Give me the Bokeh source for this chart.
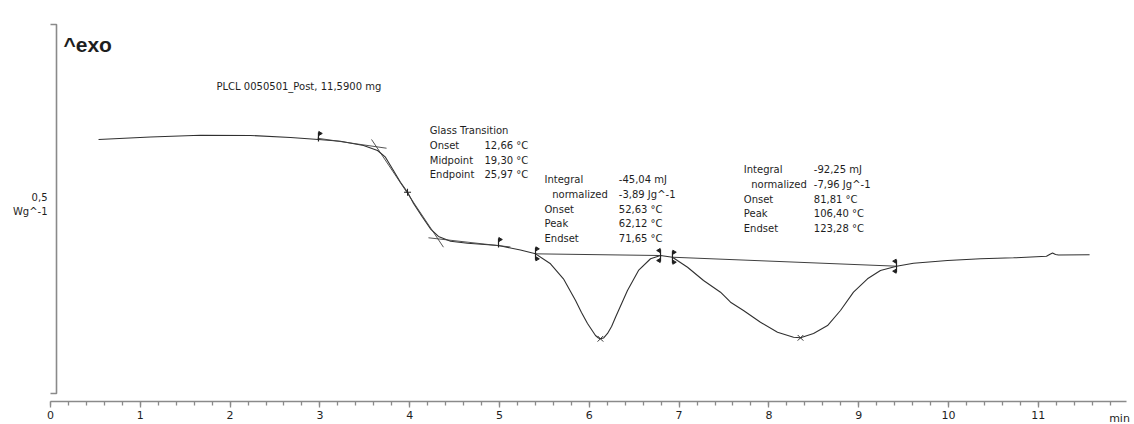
import math
from bokeh.plotting import figure
from bokeh.models import Label, SingleIntervalTicker, Range1d
from bokeh.embed import file_html
from bokeh.resources import INLINE

# ---------------- data (time in min, heat flow in W/g) ----------------
time_min = [0.535, 1.113, 1.671, 2.227, 2.673, 2.984, 3.229, 3.486, 3.642, 3.730,
            3.819, 3.897, 3.976, 4.043, 4.143, 4.231, 4.320, 4.455, 4.644, 4.989,
            5.233, 5.401, 5.568, 5.712, 5.847, 5.913, 5.980, 6.069, 6.102, 6.124,
            6.158, 6.203, 6.248, 6.292, 6.425, 6.548, 6.682, 6.793, 6.926, 7.094,
            7.272, 7.461, 7.573, 7.717, 7.906, 8.096, 8.274, 8.352, 8.497, 8.653,
            8.797, 8.942, 9.098, 9.242, 9.421, 9.610, 9.989, 10.357, 10.724, 11.091,
            11.136, 11.159, 11.192, 11.225, 11.571]
heat_flow = [0.3438, 0.3471, 0.3496, 0.3492, 0.3465, 0.3438, 0.3414, 0.3356, 0.3288, 0.3197,
             0.3016, 0.2857, 0.2721, 0.2568, 0.2382, 0.2224, 0.2120, 0.2056, 0.2028, 0.1997,
             0.1936, 0.1884, 0.1749, 0.1545, 0.1250, 0.1087, 0.0938, 0.0774, 0.0740, 0.0730,
             0.0740, 0.0802, 0.0897, 0.1023, 0.1386, 0.1658, 0.1817, 0.1861, 0.1838, 0.1702,
             0.1522, 0.1363, 0.1227, 0.1114, 0.0955, 0.0819, 0.0751, 0.0743, 0.0802, 0.0910,
             0.1114, 0.1363, 0.1545, 0.1658, 0.1716, 0.1757, 0.1793, 0.1817, 0.1830, 0.1851,
             0.1882, 0.1895, 0.1875, 0.1868, 0.1871]

# evaluation construction lines
tg_tangent_t = [[2.973, 3.742], [3.575, 4.376], [4.209, 5.122]]
tg_tangent_y = [[0.3455, 0.3319], [0.3438, 0.1974], [0.2102, 0.1977]]
peak_base_t = [[5.401, 6.793], [6.926, 9.421]]
peak_base_y = [[0.1884, 0.1861], [0.1838, 0.1716]]

tg_limit_t = [2.984, 4.989]
tg_limit_y = [0.3438, 0.1997]
tg_mid_t = [3.976]
tg_mid_y = [0.2721]
peak_limit_t = [5.401, 6.793, 6.926, 9.421]
peak_limit_y = [0.1884, 0.1861, 0.1838, 0.1716]
peak_limit_dir = [1, -1, 1, -1]
peak_t = [6.124, 8.352]
peak_y = [0.0730, 0.0743]

# texts
sample_text = "PLCL 0050501_Post, 11,5900 mg"
tg_names = ["Glass Transition", "Onset", "Midpoint", "Endpoint"]
tg_values = ["", "12,66 °C", "19,30 °C", "25,97 °C"]
p1_names = ["Integral", "normalized", "Onset", "Peak", "Endset"]
p1_values = ["-45,04 mJ", "-3,89 Jg^-1", "52,63 °C", "62,12 °C", "71,65 °C"]
p2_names = ["Integral", "normalized", "Onset", "Peak", "Endset"]
p2_values = ["-92,25 mJ", "-7,96 Jg^-1", "81,81 °C", "106,40 °C", "123,28 °C"]
x_unit = "min"
y_scale_text = ["0,5", "Wg^-1"]
exo_text = "^exo"

# ---------------- layout helpers (canvas pixel -> data) ----------------
X0, PXM = 50.0, 89.8     # canvas x of t=0, pixels per minute
Y0, PXU = 392.0, 736.0   # canvas y of 0 W/g, pixels per W/g
def dx(px):
    return (px - X0) / PXM
def dy(py):
    return (Y0 - py) / PXU

W, H = 1134, 424
FONT = "DejaVu Sans"
TXT = "#1e1e1e"
LINE = "#303030"
AXC = "#8a8a8a"

p = figure(width=W, height=H, output_backend="svg", toolbar_location=None,
           x_range=Range1d(dx(0), dx(W)), y_range=Range1d(dy(H), dy(0)),
           y_axis_location=None, min_border=0, min_border_left=0, min_border_right=0,
           min_border_top=0, min_border_bottom=0)
p.outline_line_color = None
p.xgrid.visible = False
p.ygrid.visible = False
p.background_fill_color = "white"
p.border_fill_color = "white"

ax = p.xaxis[0]
ax.fixed_location = dy(401)
ax.bounds = (0, dx(1126))
ax.ticker = SingleIntervalTicker(interval=1, num_minor_ticks=5)
ax.axis_line_color = AXC
ax.axis_line_width = 1.6
ax.major_tick_line_color = AXC
ax.minor_tick_line_color = AXC
ax.major_tick_line_width = 1.3
ax.minor_tick_line_width = 1.3
ax.major_tick_in = 0
ax.major_tick_out = 6
ax.minor_tick_in = 0
ax.minor_tick_out = 4
ax.major_label_standoff = 3
ax.major_label_text_font = FONT
ax.major_label_text_font_size = "11px"
ax.major_label_text_color = TXT

# y "bracket" scale
bx = dx(56)
bw = 6 / PXM
p.line([bx - bw, bx, bx, bx - bw], [dy(24), dy(24), dy(393), dy(393)],
       line_color=AXC, line_width=1.6)

# curve
p.line(time_min, heat_flow, line_color=LINE, line_width=1.1)

# construction lines
p.multi_line(tg_tangent_t, tg_tangent_y, line_color="#404040", line_width=0.9)
p.multi_line(peak_base_t, peak_base_y, line_color="#404040", line_width=1.0)

# limit flags for Tg
fh = 7 / PXU
p.segment(x0=tg_limit_t, y0=[y - 2 / PXU for y in tg_limit_y], x1=tg_limit_t,
          y1=[y + fh for y in tg_limit_y], line_color="#202020", line_width=1.2)
p.scatter([t + 1.5 / PXM for t in tg_limit_t], [y + fh - 1 / PXU for y in tg_limit_y],
          marker="triangle", size=4, angle=-math.pi / 2,
          fill_color="#202020", line_color="#202020")
p.scatter(tg_mid_t, tg_mid_y, marker="cross", size=7, line_color="#202020", line_width=1)

# peak limits
lh = 6 / PXU
p.segment(x0=peak_limit_t, y0=[y - lh for y in peak_limit_y], x1=peak_limit_t,
          y1=[y + lh for y in peak_limit_y], line_color="#202020", line_width=1.2)
tri_x = [t + d * 1.5 / PXM for t, d in zip(peak_limit_t, peak_limit_dir)]
tri_a = [-math.pi / 2 if d > 0 else math.pi / 2 for d in peak_limit_dir]
p.scatter(tri_x, [y + lh - 1 / PXU for y in peak_limit_y], marker="triangle", size=4,
          angle=tri_a, fill_color="#202020", line_color="#202020")
p.scatter(tri_x, [y - lh + 1 / PXU for y in peak_limit_y], marker="triangle", size=4,
          angle=tri_a, fill_color="#202020", line_color="#202020")
p.scatter(peak_t, peak_y, marker="x", size=8, line_color="#303030", line_width=1)

def label(px, py, text, size="10px", align="left", style="normal", font=FONT):
    p.add_layout(Label(x=dx(px), y=dy(py), text=text, text_font=font,
                       text_font_size=size, text_color=TXT, text_align=align,
                       text_baseline="alphabetic", text_font_style=style))

label(63, 43.5, exo_text, size="21px", style="bold", font="Liberation Sans")
label(216, 85.5, sample_text)
label(47, 196.5, y_scale_text[0], align="right")
label(47, 210.5, y_scale_text[1], align="right")

tg_base = [130, 145, 159.5, 174]
for n, v, b in zip(tg_names, tg_values, tg_base):
    label(429.3, b, n)
    if v:
        label(484, b, v)

p1_base = [179.3, 194, 208.7, 223.3, 238]
for i, (n, v, b) in enumerate(zip(p1_names, p1_values, p1_base)):
    label(551.7 if i == 1 else 544, b, n)
    label(618.3, b, v)

p2_base = [169.3, 184, 198.5, 213, 227.5]
for i, (n, v, b) in enumerate(zip(p2_names, p2_values, p2_base)):
    label(750.7 if i == 1 else 743.3, b, n)
    label(813.3, b, v)

label(1119, 418, x_unit, size="11px", align="center")

open("out.html", "w").write(file_html(p, INLINE))
